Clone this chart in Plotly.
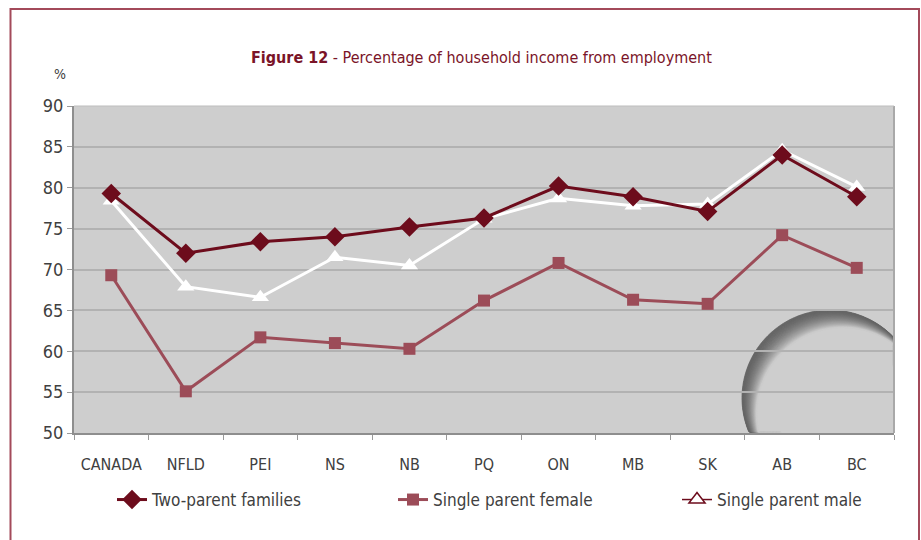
import numpy as np
import plotly.graph_objects as go

# Provinces and the share of household income that comes from employment (%)
provinces = ["CANADA", "NFLD", "PEI", "NS", "NB", "PQ", "ON", "MB", "SK", "AB", "BC"]
two_parent = [79.3, 72.0, 73.4, 74.0, 75.2, 76.3, 80.2, 78.9, 77.1, 84.0, 78.9]
single_female = [69.3, 55.1, 61.7, 61.0, 60.3, 66.2, 70.8, 66.3, 65.8, 74.2, 70.2]
single_male = [78.4, 67.9, 66.6, 71.5, 70.5, 76.2, 78.7, 77.8, 78.0, 84.6, 80.1]
y_ticks = [50, 55, 60, 65, 70, 75, 80, 85, 90]

MAROON = "#6d0c1c"
ROSE = "#9c4c58"
FONT = "DejaVu Sans Condensed, Roboto, Liberation Sans, sans-serif"

# plot-area geometry in pixels (used for the decorative swoosh, frame and legends)
W, H = 921, 540
L, R, T, B = 74, 27, 106, 107
PX0, PX1, PY0, PY1 = L, W - R, T, H - B


def to_paper(px, py):
    return (px - PX0) / (PX1 - PX0), (PY1 - py) / (PY1 - PY0)


def crescent_path(ca, ra, cb, rb, n=120):
    """Region inside circle A but outside circle B, clipped to the plot area."""
    ca, cb = np.asarray(ca, float), np.asarray(cb, float)
    d = np.hypot(*(cb - ca))
    a = (ra ** 2 - rb ** 2 + d ** 2) / (2 * d)
    h = np.sqrt(max(ra ** 2 - a ** 2, 0.0))
    phi = np.arctan2(cb[1] - ca[1], cb[0] - ca[0])
    alpha = np.arctan2(h, a)
    beta = np.arctan2(h, d - a)
    ta = np.linspace(phi + alpha, phi + 2 * np.pi - alpha, n)
    pa = np.c_[ca[0] + ra * np.cos(ta), ca[1] + ra * np.sin(ta)]
    tb = np.linspace(phi + np.pi - beta, phi + np.pi + beta, n)
    pb = np.c_[cb[0] + rb * np.cos(tb), cb[1] + rb * np.sin(tb)]
    if np.hypot(*(pb[0] - pa[-1])) > np.hypot(*(pb[-1] - pa[-1])):
        pb = pb[::-1]
    pts = np.vstack([pa, pb])
    pts[:, 0] = np.clip(pts[:, 0], PX0, PX1 - 1)
    pts[:, 1] = np.clip(pts[:, 1], PY0, PY1 - 1)
    parts = []
    for i, (x, y) in enumerate(pts):
        u, v = to_paper(x, y)
        parts.append(("M" if i == 0 else "L") + f"{u:.5f},{v:.5f}")
    return " ".join(parts) + " Z"


fig = go.Figure()

fig.add_trace(go.Scatter(
    x=provinces, y=single_female, name="Single parent female", mode="lines+markers",
    line=dict(color=ROSE, width=3),
    marker=dict(symbol="square", size=12, color=ROSE),
    legend="legend2",
))
fig.add_trace(go.Scatter(
    x=provinces, y=single_male, name="Single parent male", mode="lines+markers",
    line=dict(color="white", width=3),
    marker=dict(symbol="triangle-up", size=15, color="white"),
    showlegend=False,
))
fig.add_trace(go.Scatter(
    x=provinces, y=two_parent, name="Two-parent families", mode="lines+markers",
    line=dict(color=MAROON, width=3),
    marker=dict(symbol="diamond", size=15, color=MAROON),
    legend="legend",
))
# legend entry for the male series, drawn outlined so it shows on white
fig.add_trace(go.Scatter(
    x=[None], y=[None], name="Single parent male", mode="lines+markers",
    line=dict(color=MAROON, width=1.5),
    marker=dict(symbol="triangle-up", size=14, color="white",
                line=dict(color=MAROON, width=1.5)),
    legend="legend3",
))

shapes = []
# decorative swoosh in the lower-right corner, shaded from dark to light
outer_c, outer_r = np.array([830.0, 398.0]), 88.0
inner_c, inner_r = np.array([843.0, 414.0]), 86.0
bands = 24
for k in range(bands):
    f0, f1 = k / bands, (k + 1) / bands
    c0 = outer_c + (inner_c - outer_c) * f0
    r0 = outer_r + (inner_r - outer_r) * f0
    c1 = outer_c + (inner_c - outer_c) * f1
    r1 = outer_r + (inner_r - outer_r) * f1
    g = int(100 + (204 - 100) * (k / (bands - 1)) ** 1.8)
    col = f"rgb({g},{g},{g})"
    shapes.append(dict(
        type="path", xref="paper", yref="paper", layer="below",
        path=crescent_path(c0, r0, c1, r1),
        fillcolor=col, line=dict(width=0.8, color=col),
    ))

# plot-area edges
shapes.append(dict(type="line", xref="paper", yref="paper", x0=1, x1=1, y0=0, y1=1,
                   line=dict(color="#a9a9a9", width=2)))
shapes.append(dict(type="line", xref="paper", yref="paper", x0=0, x1=1, y0=1, y1=1,
                   line=dict(color="#bdbdbd", width=1)))

# outer frame
fx0, fy0 = to_paper(10.5, 9)
fx1, fy1 = to_paper(919, 560)
shapes.append(dict(type="rect", xref="paper", yref="paper", x0=fx0, x1=fx1, y0=fy1, y1=fy0,
                   line=dict(color="#a34a5a", width=2), fillcolor="rgba(0,0,0,0)"))

tx, ty = to_paper(481, 57)
px_, py_ = to_paper(60, 74)
annotations = [
    dict(xref="paper", yref="paper", x=tx, y=ty, showarrow=False,
         text="<b>Figure 12</b> - Percentage of household income from employment",
         font=dict(family=FONT, size=16, color="#7a1428"), xanchor="center", yanchor="middle"),
    dict(xref="paper", yref="paper", x=px_, y=py_, showarrow=False, text="%",
         font=dict(family=FONT, size=14, color="#404040"), xanchor="center", yanchor="middle"),
]


def legend_box(px):
    x, y = to_paper(px, 500)
    return dict(
        orientation="h", x=x, y=y, xanchor="left", yanchor="middle",
        font=dict(family=FONT, size=17, color="#404040"),
        bgcolor="rgba(0,0,0,0)",
    )


fig.update_layout(
    width=W, height=H,
    margin=dict(l=L, r=R, t=T, b=B),
    paper_bgcolor="white",
    plot_bgcolor="#cecece",
    font=dict(family=FONT, color="#404040"),
    shapes=shapes,
    annotations=annotations,
    showlegend=True,
    legend=legend_box(112),
    legend2=legend_box(393),
    legend3=legend_box(677),
    xaxis=dict(
        type="category", range=[-0.5, 10.5], showgrid=False,
        showline=True, linecolor="#8e8e8e", linewidth=2,
        ticks="outside", tickson="boundaries", ticklen=5, tickcolor="#9a9a9a",
        tickfont=dict(family=FONT, size=16, color="#404040"), tickangle=0,
        ticklabelstandoff=16,
    ),
    yaxis=dict(
        range=[50, 90], tickvals=y_ticks, showgrid=True, gridcolor="#b2b2b2", gridwidth=2,
        showline=True, linecolor="#8e8e8e", linewidth=2, zeroline=False,
        ticks="outside", ticklen=5, tickcolor="#9a9a9a",
        tickfont=dict(family=FONT, size=18, color="#404040"),
    ),
)

fig.write_html("out.html")
